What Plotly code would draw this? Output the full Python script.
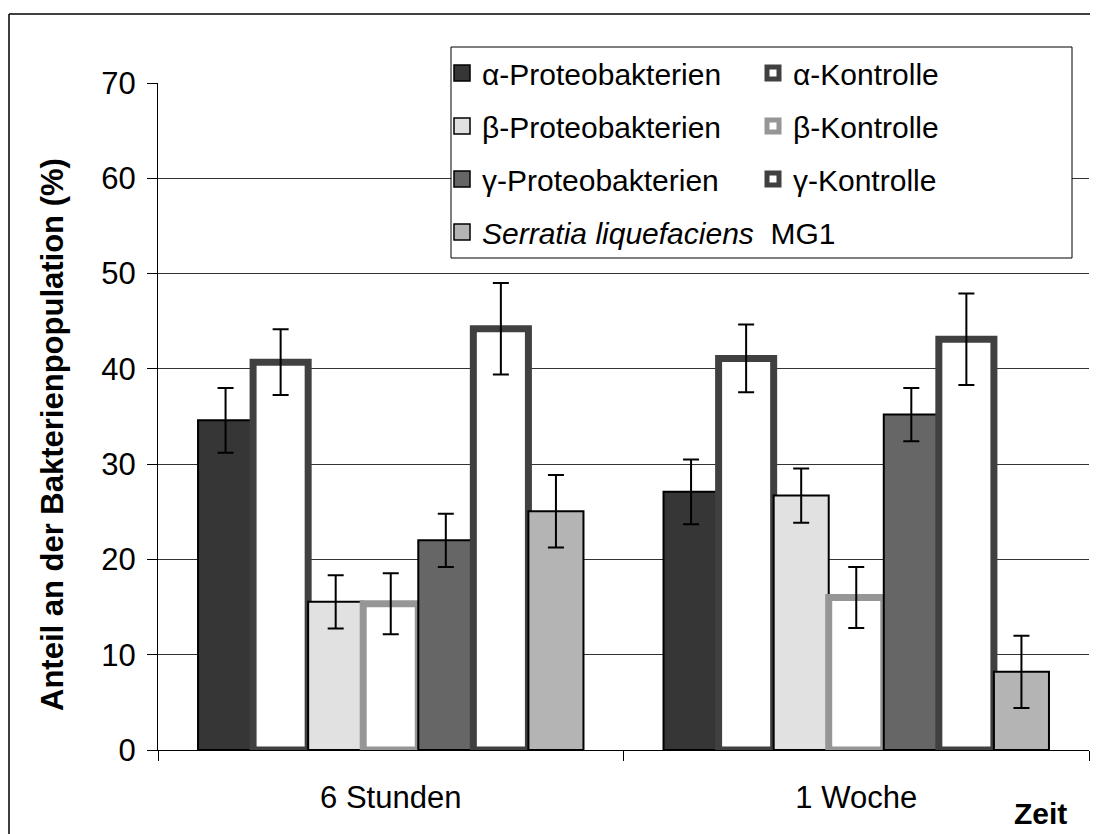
import plotly.graph_objects as go

# ---------------- data ----------------
categories = ["6 Stunden", "1 Woche"]

series_names = [
    "α-Proteobakterien", "α-Kontrolle",
    "β-Proteobakterien", "β-Kontrolle",
    "γ-Proteobakterien", "γ-Kontrolle",
    "<i>Serratia liquefaciens</i>\u00a0 MG1",
]

alpha_proteo = [34.6, 27.1]
alpha_proteo_err = [3.4, 3.4]
alpha_kontrolle = [40.7, 41.1]
alpha_kontrolle_err = [3.45, 3.55]
beta_proteo = [15.55, 26.7]
beta_proteo_err = [2.8, 2.85]
beta_kontrolle = [15.35, 16.0]
beta_kontrolle_err = [3.2, 3.2]
gamma_proteo = [22.0, 35.2]
gamma_proteo_err = [2.8, 2.8]
gamma_kontrolle = [44.2, 43.1]
gamma_kontrolle_err = [4.8, 4.8]
serratia = [25.05, 8.2]
serratia_err = [3.8, 3.8]

values = [alpha_proteo, alpha_kontrolle, beta_proteo, beta_kontrolle,
          gamma_proteo, gamma_kontrolle, serratia]
errors = [alpha_proteo_err, alpha_kontrolle_err, beta_proteo_err, beta_kontrolle_err,
          gamma_proteo_err, gamma_kontrolle_err, serratia_err]

y_ticks = [0, 10, 20, 30, 40, 50, 60, 70]

# ---------------- styles ----------------
fills = ["#363636", "#ffffff", "#e1e1e1", "#ffffff", "#666666", "#ffffff", "#b4b4b4"]
lines = ["#000000", "#404040", "#000000", "#969696", "#000000", "#404040", "#000000"]
line_w = [2, 7, 2, 7, 2, 7, 2]
is_ctrl = [False, True, False, True, False, True, False]

FONT = "Arial, Liberation Sans, sans-serif"

# the page body has an 8px margin; work in page pixels and shift
OFF = 8
W, H = 1098 - OFF, 834 - OFF
L, R, T, B = 158 - OFF, 1089 - OFF, 83 - OFF, 750 - OFF
def px2x(px):
    return (px - OFF - L) / (R - L)
def py2y(py):
    return (B - (py - OFF)) / (B - T)

fig = go.Figure()

for i in range(7):
    fig.add_trace(go.Bar(
        x=categories, y=values[i], name=series_names[i],
        marker=dict(color=fills[i], line=dict(color=lines[i], width=line_w[i])),
        error_y=dict(type="data", array=errors[i], visible=True,
                     color="#000000", thickness=2, width=8),
        showlegend=False, cliponaxis=False,
    ))

# legend entries (two columns)
for i in range(7):
    legend_id = "legend" if i % 2 == 0 else "legend2"
    if is_ctrl[i]:
        mk = dict(symbol="square", size=12, color="#ffffff",
                  line=dict(color=lines[i], width=5))
    else:
        mk = dict(symbol="square", size=16, color=fills[i],
                  line=dict(color="#000000", width=1.5))
    fig.add_trace(go.Scatter(
        x=[None], y=[None], mode="markers", name=series_names[i],
        marker=mk, legend=legend_id, legendgroup="g%d" % i, showlegend=True,
    ))

legend_common = dict(
    bgcolor="rgba(0,0,0,0)", borderwidth=0,
    font=dict(family=FONT, size=30, color="#000000"),
    orientation="v", traceorder="grouped", tracegroupgap=11,
    xanchor="left", yanchor="top", itemclick=False, itemdoubleclick=False,
)

fig.update_layout(
    width=W, height=H,
    margin=dict(l=L, r=W - R, t=T, b=H - B, pad=0),
    paper_bgcolor="#ffffff", plot_bgcolor="#ffffff",
    barmode="group", bargap=0.172, bargroupgap=0,
    font=dict(family=FONT, size=31, color="#000000"),
    legend=dict(x=px2x(442), y=py2y(47), **legend_common),
    legend2=dict(x=px2x(753), y=py2y(47), **legend_common),
    xaxis=dict(
        type="category", categoryorder="array", categoryarray=categories,
        showline=True, linecolor="#000000", linewidth=1,
        ticks="outside", tickson="boundaries", ticklen=10, tickcolor="#000000",
        showgrid=False, tickfont=dict(family=FONT, size=31),
        ticklabelstandoff=20,
    ),
    yaxis=dict(
        range=[0, 70], tickvals=y_ticks, ticktext=[str(v) for v in y_ticks],
        showline=True, linecolor="#000000", linewidth=1,
        ticks="outside", ticklen=10, tickcolor="#000000",
        showgrid=True, gridcolor="#333333", gridwidth=1,
        zeroline=False, tickfont=dict(family=FONT, size=31),
        ticklabelstandoff=5,
    ),
    shapes=[
        # outer frame (top and left edges visible)
        dict(type="line", xref="paper", yref="paper",
             x0=px2x(9), x1=px2x(1110), y0=py2y(14), y1=py2y(14),
             line=dict(color="#000000", width=1.5)),
        dict(type="line", xref="paper", yref="paper",
             x0=px2x(9), x1=px2x(9), y0=py2y(14), y1=py2y(850),
             line=dict(color="#000000", width=1.5)),
        # legend box
        dict(type="rect", xref="paper", yref="paper", layer="above",
             x0=px2x(451), x1=px2x(1072), y0=py2y(47), y1=py2y(258),
             fillcolor="#ffffff", line=dict(color="#000000", width=1)),
    ],
    annotations=[
        dict(text="<b>Anteil an der Bakterienpopulation (%)</b>", textangle=-90,
             xref="paper", yref="paper", x=px2x(52), y=py2y(435),
             xanchor="center", yanchor="middle", showarrow=False,
             font=dict(family=FONT, size=31, color="#000000")),
        dict(text="<b>Zeit</b>", xref="paper", yref="paper",
             x=px2x(1040), y=py2y(813), xanchor="center", yanchor="middle",
             showarrow=False, font=dict(family=FONT, size=30, color="#000000")),
    ],
)

fig.write_html("out.html")
